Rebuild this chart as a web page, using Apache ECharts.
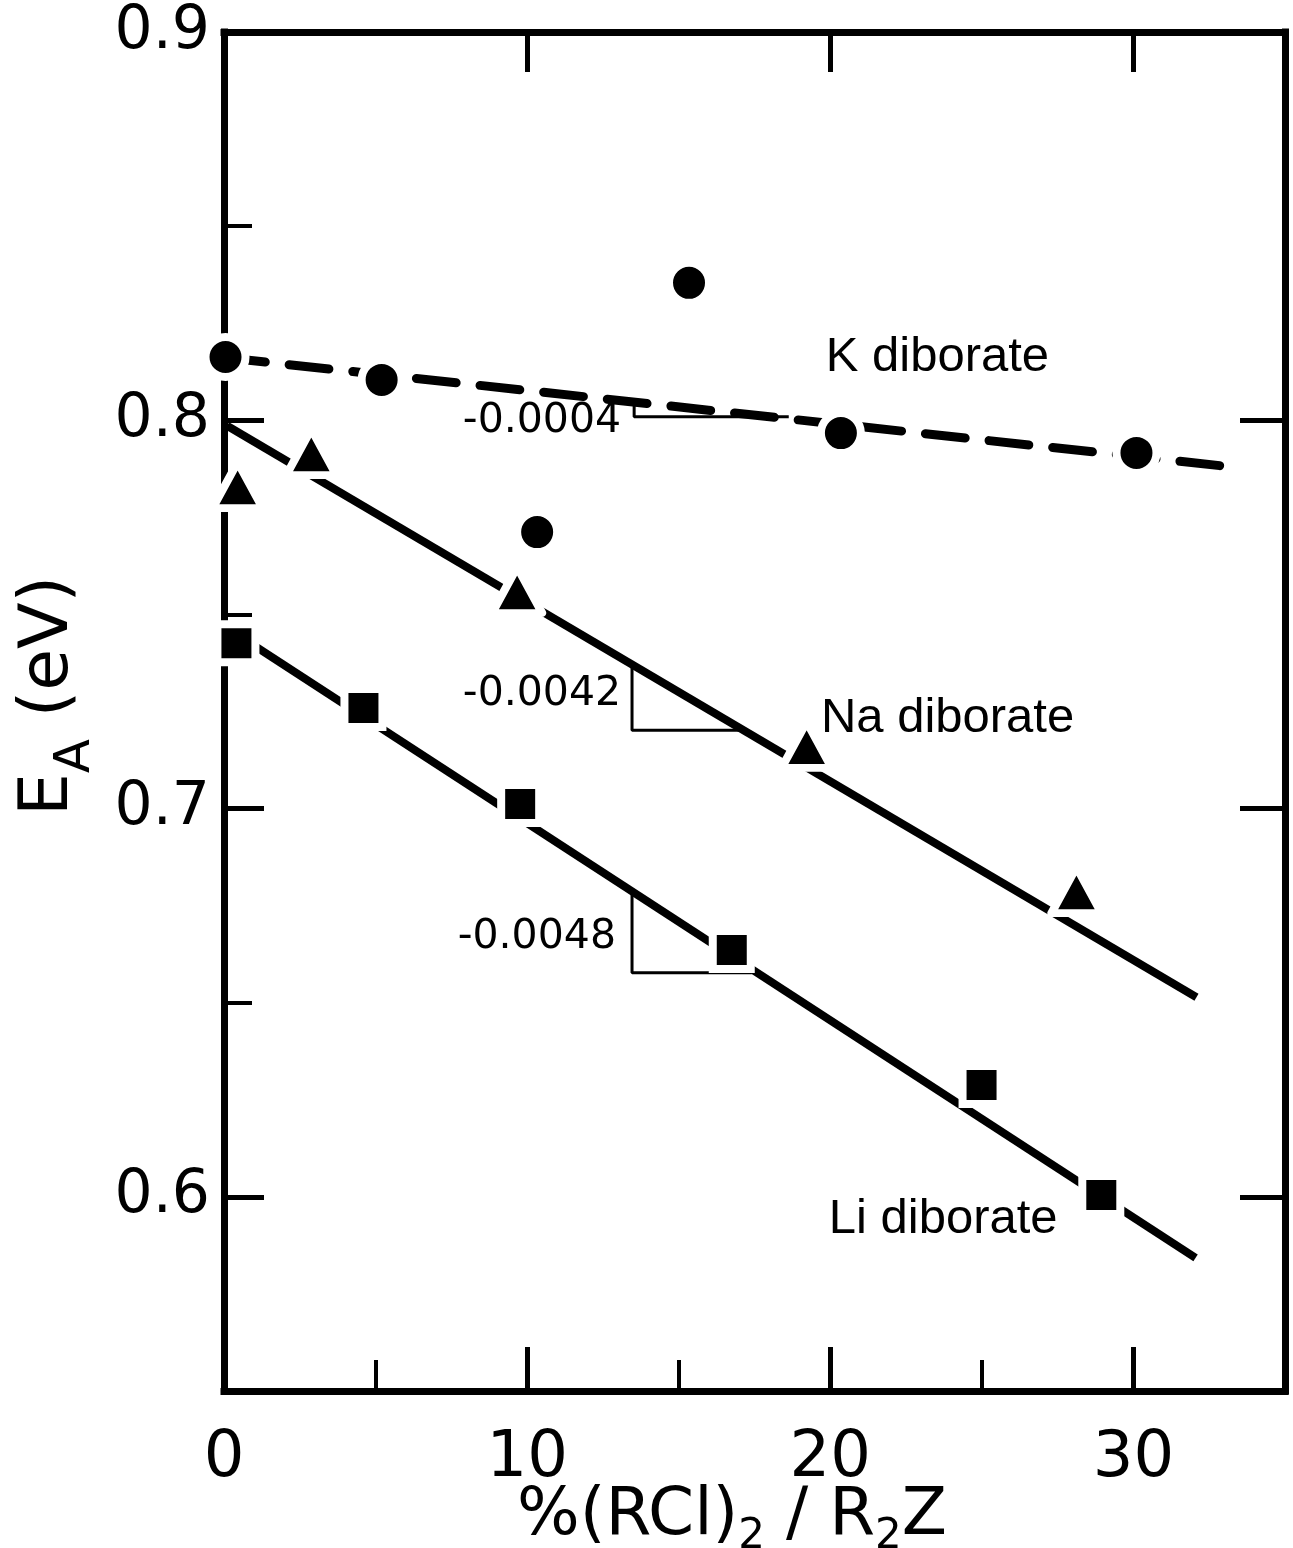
<!DOCTYPE html>
<html><head><meta charset="utf-8">
<script src="https://cdn.jsdelivr.net/npm/echarts@6/dist/echarts.min.js"></script>
<style>html,body{margin:0;padding:0;background:#fff}#c{width:1293px;height:1548px}</style>
</head><body><div id="c"></div>
<script>
// ---- axis ticks ----
const xMajorTicks = [0, 10, 20, 30];
const xMinorTicks = [5, 15, 25];
const xTopTicks = [10, 20, 30];
const yMajorTicks = [0.6, 0.7, 0.8, 0.9];
const yMinorTicks = [0.65, 0.75, 0.85];
const yRightTicks = [0.6, 0.7, 0.8];

// ---- measured points ----
const kX = [0.05, 5.2, 10.33, 15.34, 20.35, 30.1];
const kY = [0.8163, 0.8104, 0.7712, 0.8354, 0.7967, 0.7916];
const naX = [0.45, 2.88, 9.67, 19.22, 28.12];
const naY = [0.7833, 0.7918, 0.7563, 0.7164, 0.679];
const liX = [0.41, 4.6, 9.77, 16.75, 24.99, 28.94];
const liY = [0.7426, 0.7259, 0.7012, 0.6636, 0.6288, 0.6005];

// ---- fitted lines ----
const kFitX = [0.05, 32.87], kFitY = [0.8161, 0.7883];
const naFitX = [0.1, 32.08], naFitY = [0.7986, 0.6514];
const liFitX = [0.4, 32.05], liFitY = [0.745, 0.5843];

// ---- slope triangles ----
const kSlopeX = [13.53, 13.53, 18.63], kSlopeY = [0.8047, 0.8009, 0.8009];
const naSlopeX = [13.46, 13.46, 17.08], naSlopeY = [0.7365, 0.7202, 0.7202];
const liSlopeX = [13.46, 13.46, 17.41], liSlopeY = [0.6783, 0.6577, 0.6577];

// ---- annotations ----
const seriesLabels = ['K diborate', 'Na diborate', 'Li diborate'];
const seriesLabelX = [19.85, 19.69, 19.95];
const seriesLabelY = [0.8162, 0.7233, 0.5941];
const slopeLabels = ['-0.0004', '-0.0042', '-0.0048'];
const slopeLabelX = [13.1, 13.1, 12.93];
const slopeLabelY = [0.7996, 0.7293, 0.6669];

const zip = (a, b) => a.map((v, i) => [v, b[i]]);
const FONT = 'DejaVu Sans';
const X_MIN = 0, X_MAX = 35, Y_MIN = 0.55, Y_MAX = 0.9;

const baseX = {type: 'value', min: X_MIN, max: X_MAX, interval: 5, splitLine: {show: false}};
const baseY = {type: 'value', min: Y_MIN, max: Y_MAX, interval: 0.05, splitLine: {show: false}};
const frameLine = {show: true, onZero: false, lineStyle: {color: '#000', width: 7, cap: 'square'}};
const noLine = {show: false, onZero: false};

const chart = echarts.init(document.getElementById('c'), null, {renderer: 'canvas'});

const lineSeries = (x, y, w, dash) => ({
  type: 'line', data: zip(x, y), symbol: 'none', silent: true,
  lineStyle: {color: '#000', width: w, type: dash || 'solid', cap: dash ? 'round' : 'butt', opacity: 1},
  z: 2
});
const markSeries = (x, y, symbol, size, extra) => ({
  type: 'scatter', data: zip(x, y), symbol: symbol, symbolSize: size, silent: true,
  itemStyle: Object.assign({color: '#000', borderColor: '#fff', borderWidth: 8, opacity: 1}, extra || {}),
  z: 5
});
const textSeries = (x, y, texts, pos, fontSize, family) => ({
  type: 'scatter', silent: true, symbolSize: 0, z: 6,
  itemStyle: {color: '#000', opacity: 1},
  data: zip(x, y),
  label: {show: true, position: pos, distance: 0, color: '#000', opacity: 1, textBorderWidth: 0,
    fontSize: fontSize, fontFamily: family, formatter: p => texts[p.dataIndex]}
});

chart.setOption({
  animation: false,
  backgroundColor: '#fff',
  textStyle: {fontFamily: FONT, color: '#000'},
  grid: {left: 224, right: 8, top: 32, bottom: 157, containLabel: false},
  xAxis: [
    Object.assign({}, baseX, {position: 'bottom', axisLine: frameLine,
      axisTick: {inside: true, length: 44, customValues: xMajorTicks, lineStyle: {color: '#000', width: 5}},
      axisLabel: {customValues: xMajorTicks, color: '#000', fontSize: 64, fontFamily: FONT, margin: 36}}),
    Object.assign({}, baseX, {position: 'bottom', axisLine: noLine,
      axisTick: {inside: true, length: 31, customValues: xMinorTicks, lineStyle: {color: '#000', width: 4}},
      axisLabel: {show: false}}),
    Object.assign({}, baseX, {position: 'top', axisLine: frameLine,
      axisTick: {inside: true, length: 40, customValues: xTopTicks, lineStyle: {color: '#000', width: 5}},
      axisLabel: {show: false}})
  ],
  yAxis: [
    Object.assign({}, baseY, {position: 'left', axisLine: frameLine,
      axisTick: {inside: true, length: 40, customValues: yMajorTicks, lineStyle: {color: '#000', width: 5}},
      axisLabel: {customValues: yMajorTicks, color: '#000', fontSize: 60, fontFamily: FONT, margin: 14,
        formatter: v => v.toFixed(1)}}),
    Object.assign({}, baseY, {position: 'left', axisLine: noLine,
      axisTick: {inside: true, length: 28, customValues: yMinorTicks, lineStyle: {color: '#000', width: 4}},
      axisLabel: {show: false}}),
    Object.assign({}, baseY, {position: 'right', axisLine: frameLine,
      axisTick: {inside: true, length: 45, customValues: yRightTicks, lineStyle: {color: '#000', width: 5}},
      axisLabel: {show: false}})
  ],
  series: [
    lineSeries(kFitX, kFitY, 9, [40, 24]),
    lineSeries(naFitX, naFitY, 8),
    lineSeries(liFitX, liFitY, 8),
    lineSeries(kSlopeX, kSlopeY, 3),
    lineSeries(naSlopeX, naSlopeY, 3),
    lineSeries(liSlopeX, liSlopeY, 3),
    markSeries(kX, kY, 'circle', 40),
    markSeries(naX, naY, 'triangle', [50, 46], {borderJoin: 'round'}),
    markSeries(liX, liY, 'rect', 38),
    textSeries(seriesLabelX, seriesLabelY, seriesLabels, 'right', 49, 'Liberation Sans'),
    textSeries(slopeLabelX, slopeLabelY, slopeLabels, 'left', 41, FONT)
  ],
  graphic: [
    {type: 'text', x: 732, y: 1519, silent: true,
      style: {text: '{m|%(RCl)}{s|2}{m| / R}{s|2}{m|Z}', align: 'center', verticalAlign: 'middle', fill: '#000',
        rich: {m: {fontSize: 66, fontFamily: FONT, lineHeight: 70, verticalAlign: 'top', fill: '#000'},
               s: {fontSize: 42, fontFamily: FONT, lineHeight: 42, verticalAlign: 'top', padding: [32, 0, 0, 0], fill: '#000'}}}},
    {type: 'text', x: 50, y: 696, rotation: Math.PI / 2, silent: true,
      style: {text: '{m|E}{s|A}{m| (eV)}', align: 'center', verticalAlign: 'middle', fill: '#000',
        rich: {m: {fontSize: 68, fontFamily: FONT, lineHeight: 70, verticalAlign: 'top', fill: '#000'},
               s: {fontSize: 50, fontFamily: FONT, lineHeight: 50, verticalAlign: 'top', padding: [36, 0, 0, 0], fill: '#000'}}}}
  ]
});
</script></body></html>
